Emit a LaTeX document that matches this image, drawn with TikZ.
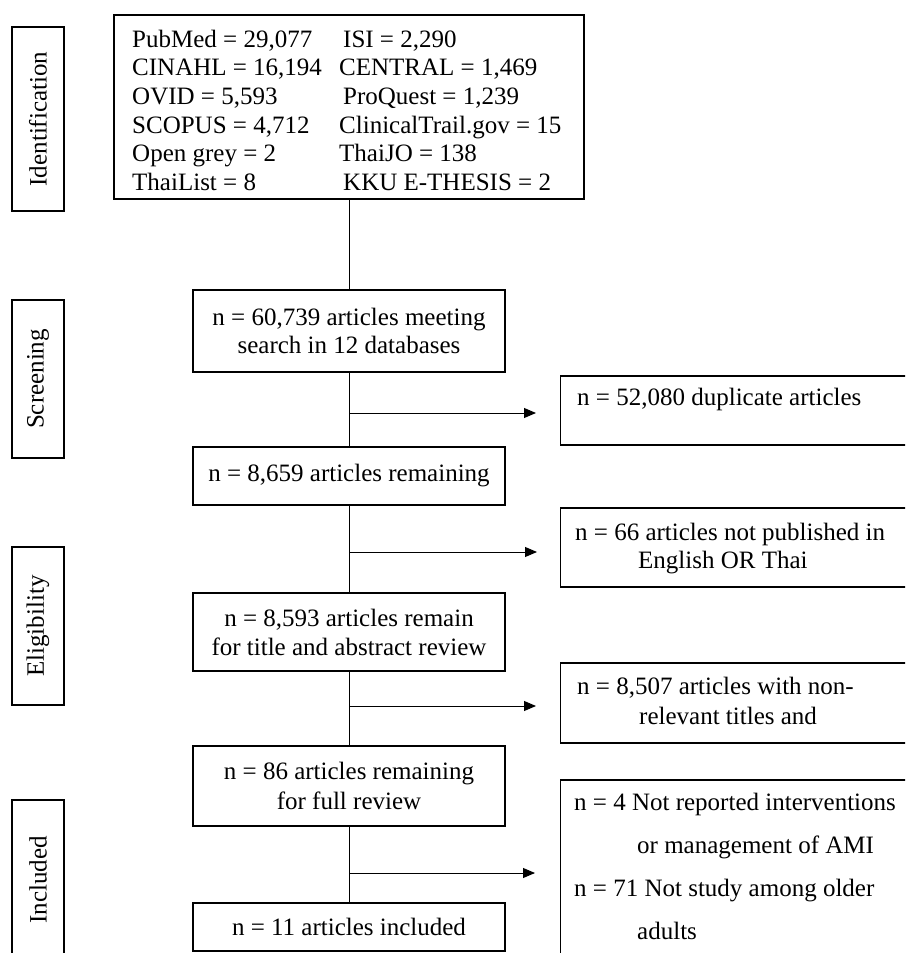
\documentclass[tikz,border=0pt]{standalone}
\usepackage{fontspec}
\setmainfont{Liberation Serif}
\usetikzlibrary{arrows.meta}
\begin{document}
\begin{tikzpicture}[x=1pt,y=-1pt,
  every node/.style={font=\fontsize{25}{28.7}\selectfont},
  box/.style={draw, line width=1.3pt, inner sep=0pt, align=center},
  sidebox/.style={draw, line width=1.1pt, rotate=90, inner sep=0pt, minimum height=52pt},
  txt/.style={inner sep=0pt, anchor=base west},
  link/.style={line width=0.9pt},
  arr/.style={line width=0.9pt, -{Triangle[length=12pt,width=10pt]}}]
\useasboundingbox (0,0) rectangle (905,953);
\clip (0,0) rectangle (905,953);

% stage labels
\node[sidebox, minimum width=184pt] (sid) at (38,119) {Identification};
\node[sidebox, minimum width=158pt] (sscr) at (38,379) {Screening};
\node[sidebox, minimum width=158pt] (selig) at (38,626) {Eligibility};
\node[sidebox, minimum width=160pt] (sinc) at (38,880) {Included};

% database box
\node[box, minimum width=470pt, minimum height=184pt] (db) at (349,107) {};
\node[txt] (dbtext) at (132,47) {\begin{tabular}[t]{@{}p{207pt}@{}l@{}}
PubMed = 29,077 & \hspace{4pt}ISI = 2,290\\
CINAHL = 16,194 & CENTRAL = 1,469\\
OVID = 5,593 & \hspace{4pt}ProQuest = 1,239\\
SCOPUS = 4,712 & ClinicalTrail.gov = 15\\
Open grey = 2 & ThaiJO = 138\\
ThaiList = 8 & \hspace{4pt}KKU E-THESIS = 2
\end{tabular}};

% main flow boxes
\node[box, minimum width=312pt, minimum height=82pt, font=\fontsize{25}{28}\selectfont] (n1) at (349,331) {n = 60,739 articles meeting\\search in 12 databases};
\node[box, minimum width=312pt, minimum height=58pt] (n2) at (349,476) {n = 8,659 articles remaining};
\node[box, minimum width=312pt, minimum height=78pt, font=\fontsize{25}{29}\selectfont] (n3) at (349,632) {n = 8,593 articles remain\\for title and abstract review};
\node[box, minimum width=312pt, minimum height=80pt, font=\fontsize{25}{30}\selectfont] (n4) at (349,786) {n = 86 articles remaining\\for full review};
\node[box, minimum width=312pt, minimum height=48pt] (n5) at (349,927) {n = 11 articles included};

% exclusion boxes
\node[box, anchor=west, minimum width=380pt, minimum height=69pt] (e1) at (560,410.5) {};
\node[txt] (e1t) at (577,405) {n = 52,080 duplicate articles};
\node[box, anchor=west, minimum width=380pt, minimum height=79pt] (e2) at (560,547.5) {};
\node[txt] (e2t) at (575,540) {\begin{tabular}[t]{@{}l@{}}n = 66 articles not published in\\\hspace{63pt}English OR Thai\end{tabular}};
\node[box, anchor=west, minimum width=380pt, minimum height=80pt] (e3) at (560,703) {};
\node[txt, font=\fontsize{25}{30}\selectfont] (e3t) at (577,694) {\begin{tabular}[t]{@{}l@{}}n = 8,507 articles with non-\\\hspace{62pt}relevant titles and\end{tabular}};
\node[box, anchor=west, minimum width=380pt, minimum height=210pt] (e4) at (560,885) {};
\node[txt, font=\fontsize{25}{43}\selectfont] (e4t) at (574,810) {\begin{tabular}[t]{@{}l@{}}n = 4 Not reported interventions\\\hspace{63pt}or management of AMI\\n = 71 Not study among older\\\hspace{63pt}adults\end{tabular}};

% connectors
\draw[link] (db.south) -- (n1.north);
\draw[link] (n1.south) -- (n2.north);
\draw[link] (n2.south) -- (n3.north);
\draw[link] (n3.south) -- (n4.north);
\draw[link] (n4.south) -- (n5.north);

\coordinate (b1) at (349,413);
\coordinate (t1) at (536,413);
\coordinate (b2) at (349,552);
\coordinate (t2) at (537,552);
\coordinate (b3) at (349,706);
\coordinate (t3) at (536,706);
\coordinate (b4) at (349,873);
\coordinate (t4) at (535,873);
\draw[arr] (b1) -- (t1);
\draw[arr] (b2) -- (t2);
\draw[arr] (b3) -- (t3);
\draw[arr] (b4) -- (t4);
\end{tikzpicture}
\end{document}
